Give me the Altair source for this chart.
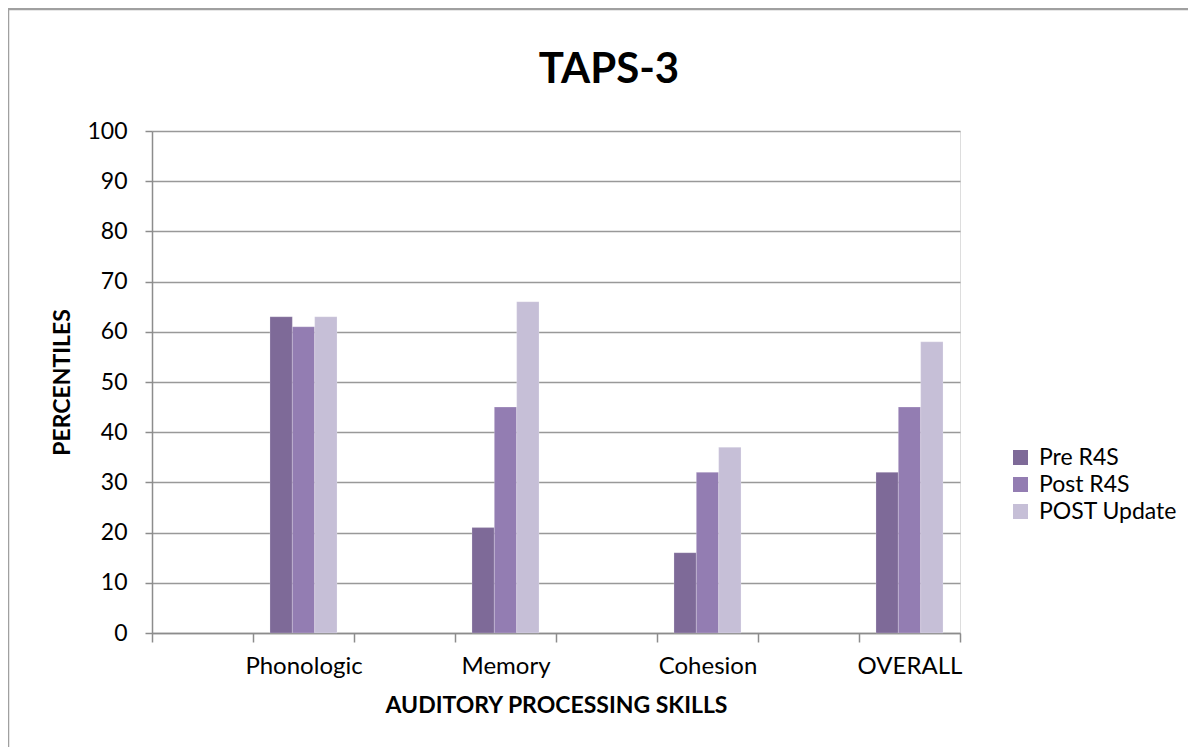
import altair as alt
import pandas as pd

categories = ["_a", "Phonologic", "_b", "Memory", "_c", "Cohesion", "_d", "OVERALL"]
real_categories = ["Phonologic", "Memory", "Cohesion", "OVERALL"]
series = ["Pre R4S", "Post R4S", "POST Update"]
pre_r4s = [63, 21, 16, 32]
post_r4s = [61, 45, 32, 45]
post_update = [63, 66, 37, 58]
colors = ["#7E6A98", "#937DB2", "#C6BFD7"]
y_ticks = [0, 10, 20, 30, 40, 50, 60, 70, 80, 90, 100]
chart_title = "TAPS-3"

rows = []
for i, c in enumerate(real_categories):
    for s, vals in zip(series, [pre_r4s, post_r4s, post_update]):
        rows.append({"cat": c, "series": s, "value": vals[i]})
df = pd.DataFrame(rows)

W, H = 808, 502
FONT = "Lato"
AX = "#8c8c8c"

bars = alt.Chart(df).mark_bar(stroke="white", strokeOpacity=0.35, strokeWidth=0.6).encode(
    x=alt.X("cat:N", sort=categories,
            scale=alt.Scale(domain=categories, paddingInner=0, paddingOuter=0),
            axis=alt.Axis(title="AUDITORY PROCESSING SKILLS", labelAngle=0,
                          labelExpr="indexof(datum.label, '_') == 0 ? '' : datum.label",
                          tickBand="extent", tickSize=9, tickColor=AX, tickWidth=1.5,
                          domainColor=AX, domainWidth=1.5,
                          labelFont=FONT, labelFontSize=24, labelColor="#000000", labelPadding=12,
                          titleFont=FONT, titleFontSize=23, titleFontWeight="bold", titleColor="#000000",
                          titlePadding=16, grid=False)),
    xOffset=alt.XOffset("series:N", sort=series,
                        scale=alt.Scale(domain=series, paddingInner=0, paddingOuter=0.76)),
    y=alt.Y("value:Q", scale=alt.Scale(domain=[0, 100], nice=False),
            axis=alt.Axis(title="PERCENTILES", values=y_ticks, tickSize=7, tickColor=AX,
                          tickWidth=1.5, domainColor=AX, domainWidth=1.5,
                          gridColor="#999999", gridWidth=1.5,
                          labelFont=FONT, labelFontSize=23, labelColor="#000000", labelPadding=18,
                          titleFont=FONT, titleFontSize=23, titleFontWeight="bold", titleColor="#000000",
                          titlePadding=12)),
    color=alt.Color("series:N", sort=series,
                    scale=alt.Scale(domain=series, range=colors),
                    legend=alt.Legend(title=None, orient="none", legendX=857, legendY=315,
                                      symbolType="square", symbolSize=225, symbolStrokeWidth=0,
                                      labelFont=FONT, labelFontSize=23, labelColor="#000000",
                                      rowPadding=3, labelOffset=7)),
)

title_text = alt.Chart(pd.DataFrame({"t": [chart_title]})).mark_text(
    font=FONT, fontSize=42, fontWeight="bold", color="#000000",
    align="center", baseline="alphabetic", clip=False
).encode(text="t:N", x=alt.value(457), y=alt.value(-48))

border = alt.Chart(pd.DataFrame({"k": [0]})).mark_rect(
    fill=None, stroke="#a0a0a0", strokeWidth=2.5, clip=False
).encode(
    x=alt.value(-144), x2=alt.value(1100), y=alt.value(-122), y2=alt.value(700)
)

chart = alt.layer(bars, title_text, border).properties(
    width=W, height=H,
    autosize=alt.AutoSizeParams(type="none"),
    padding={"left": 144, "top": 123, "right": 1188 - 152 - W, "bottom": 747 - 131 - H},
).configure_view(stroke=None).configure(background="white")

chart.save("out.html", embed_options={"renderer": "svg", "actions": False})
